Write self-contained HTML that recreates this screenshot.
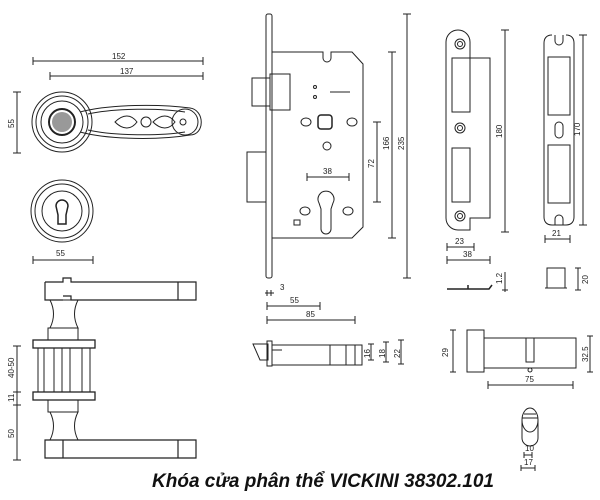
<!DOCTYPE html>
<html><head><meta charset="utf-8"><style>
html,body{margin:0;padding:0;background:#fff;width:600px;height:500px;overflow:hidden}
svg{display:block}
text{font-family:"Liberation Sans",sans-serif;font-size:8px;fill:#222}
.t{font-size:19px;font-weight:bold;font-style:italic;fill:#111}
</style></head><body>
<svg width="600" height="500" viewBox="0 0 600 500" xmlns="http://www.w3.org/2000/svg" fill="none" stroke="#222" stroke-width="1">
<path d="M33 61H203M33 57v8M203 57v8M50 76H203M50 72v8M203 72v8M17 92V153M13 92h8M13 153h8"/>
<text x="112" y="59" stroke="none">152</text><text x="120" y="74" stroke="none">137</text>
<text x="14" y="128" stroke="none" transform="rotate(-90 14 128)">55</text>
<circle cx="62" cy="122" r="30"/><circle cx="62" cy="122" r="26"/><circle cx="62" cy="122" r="21"/><circle cx="62" cy="122" r="13" stroke-width="2"/>
<circle cx="62" cy="122" r="10" fill="#999" stroke="none"/>
<path d="M80 112 C110 104,160 104,190 108 C205 110,205 135,190 135 C160 140,110 140,80 132"/>
<path d="M88 114 C115 108,160 108,185 112 M88 130 C115 136,160 136,185 132"/>
<path d="M115 122 c8-8 16-8 22 0 c-6 8-14 8-22 0z M153 122 c8-8 16-8 22 0 c-6 8-14 8-22 0z"/><circle cx="146" cy="122" r="5"/><circle cx="183" cy="122" r="3"/>
<circle cx="185" cy="122" r="13"/>
<circle cx="62" cy="211" r="31"/><circle cx="62" cy="211" r="27"/><circle cx="62" cy="211" r="20"/>
<path d="M56 206a6 6 0 1 1 12 0l-2 9v9h-8v-9z" stroke-width="1.5"/>
<path d="M33 260H93M33 256v8M93 256v8"/><text x="56" y="256" stroke="none">55</text>
<path d="M45 282h18v-4h8v4h125v18H71v-4h-8 M45 282v18h18 M178 282v18" stroke-width="1.2"/>
<path d="M50 300c5 10 4 20 0 28h28c-4-8-5-18 0-28z"/>
<rect x="48" y="328" width="30" height="12"/>
<rect x="33" y="340" width="62" height="8" stroke-width="1.3"/>
<path d="M38 348v44M44 348v44M54 348v44M62 348v44M70 348v44M82 348v44M90 348v44"/>
<rect x="33" y="392" width="62" height="8" stroke-width="1.3"/>
<rect x="48" y="400" width="30" height="12"/>
<path d="M50 412c5 10 4 20 0 28h28c-4-8-5-18 0-28z"/>
<path d="M45 440h151v18H45z M63 440v18 M178 440v18" stroke-width="1.2"/>
<path d="M17 346V460M13 346h8M13 392h8M13 405h8M13 460h8"/>
<text x="14" y="378" stroke="none" transform="rotate(-90 14 378)">40-50</text>
<text x="14" y="402" stroke="none" transform="rotate(-90 14 402)">11</text>
<text x="14" y="438" stroke="none" transform="rotate(-90 14 438)">50</text>
<rect x="266" y="14" width="6" height="264" rx="2"/>
<path d="M272 52H323v6a4 4 0 0 0 8 0v-6H352l11 12V227l-11 11H272"/>
<rect x="270" y="74" width="20" height="36"/><path d="M252 78h18v28h-18z"/>
<rect x="247" y="152" width="19" height="50"/>
<rect x="318" y="115" width="14" height="14" rx="3" stroke-width="1.5"/>
<ellipse cx="306" cy="122" rx="5" ry="4"/><ellipse cx="352" cy="122" rx="5" ry="4"/><circle cx="327" cy="146" r="4"/>
<circle cx="315" cy="87" r="1.5"/><circle cx="315" cy="97" r="1.5"/><path d="M330 92h20"/>
<path d="M319 203a8 8 0 1 1 14 0l-2 6v20a4 4 0 0 1-10 0v-20z"/>
<ellipse cx="305" cy="211" rx="5" ry="4"/><ellipse cx="348" cy="211" rx="5" ry="4"/>
<path d="M294 220h6v5h-6z"/>
<path d="M307 177h42M307 173v8M349 173v8"/><text x="323" y="174" stroke="none">38</text>
<path d="M377 122V202M373 122h8M373 202h8M392 52V238M388 52h8M388 238h8M407 14V278M403 14h8M403 278h8"/>
<text x="374" y="168" stroke="none" transform="rotate(-90 374 168)">72</text>
<text x="389" y="150" stroke="none" transform="rotate(-90 389 150)">166</text>
<text x="404" y="150" stroke="none" transform="rotate(-90 404 150)">235</text>
<path d="M265 293h9M267 290v6M271 290v6"/><text x="280" y="290" stroke="none">3</text>
<path d="M267 306h53M267 302v8M320 302v8"/><text x="290" y="303" stroke="none">55</text>
<path d="M267 320h88M267 316v8M355 316v8"/><text x="306" y="317" stroke="none">85</text>
<path d="M253 344h15v16h-8z"/><rect x="267" y="341" width="5" height="25"/>
<path d="M272 345h90v20h-90z M330 345v20M346 345v20M355 345v20M272 350h10"/>
<path d="M371 344v16M368 344h6M368 360h6M386 342v20M383 342h6M383 362h6M401 340v24M398 340h6M398 364h6"/>
<text x="370" y="358" stroke="none" transform="rotate(-90 370 358)">16</text>
<text x="385" y="358" stroke="none" transform="rotate(-90 385 358)">18</text>
<text x="400" y="358" stroke="none" transform="rotate(-90 400 358)">22</text>
<path d="M458 30a12 12 0 0 0-12 12V218a12 12 0 0 0 12 12h12v-12h20V58h-20V42a12 12 0 0 0-12-12z"/>
<circle cx="460" cy="44" r="5"/><circle cx="460" cy="44" r="2.5"/><circle cx="460" cy="128" r="5"/><circle cx="460" cy="128" r="2.5"/><circle cx="460" cy="216" r="5"/><circle cx="460" cy="216" r="2.5"/>
<rect x="452" y="58" width="18" height="54"/><rect x="452" y="148" width="18" height="54"/>
<path d="M505 30V232M501 30h8M501 232h8"/><text x="502" y="138" stroke="none" transform="rotate(-90 502 138)">180</text>
<path d="M447 247h27M447 243v8M474 243v8M447 260h43M447 256v8M490 256v8"/><text x="455" y="244" stroke="none">23</text><text x="463" y="257" stroke="none">38</text>
<path d="M447 289h42l3-4M468 285v4" stroke-width="1.5"/>
<path d="M505 272v20M502 290h6"/><text x="502" y="284" stroke="none" transform="rotate(-90 502 284)">1.2</text>
<path d="M552 35c-6 0-8 4-8 8V217c0 4 2 8 8 8h14c6 0 8-4 8-8V43c0-4-2-8-8-8"/>
<path d="M555 35v6a4 4 0 0 0 8 0v-6 M555 225v-6a4 4 0 0 1 8 0v6"/>
<rect x="548" y="57" width="22" height="58"/><rect x="548" y="145" width="22" height="58"/><rect x="555" y="122" width="8" height="16" rx="4"/>
<path d="M583 35V225M579 35h8M579 225h8"/><text x="580" y="136" stroke="none" transform="rotate(-90 580 136)">170</text>
<path d="M545 239h25M545 235v8M570 235v8"/><text x="552" y="236" stroke="none">21</text>
<rect x="547" y="268" width="18" height="20"/><path d="M545 288h22"/>
<path d="M578 268v22M575 268h6M575 290h6"/><text x="588" y="284" stroke="none" transform="rotate(-90 588 284)">20</text>
<rect x="467" y="330" width="17" height="42"/><rect x="484" y="338" width="92" height="30"/>
<rect x="526" y="338" width="8" height="24"/><circle cx="530" cy="370" r="2"/>
<path d="M453 330v42M450 330h6M450 372h6"/><text x="448" y="357" stroke="none" transform="rotate(-90 448 357)">29</text>
<path d="M590 336v36M587 336h6M587 372h6"/><text x="588" y="362" stroke="none" transform="rotate(-90 588 362)">32.5</text>
<path d="M488 385h85M488 381v8M573 381v8"/><text x="525" y="382" stroke="none">75</text>
<ellipse cx="530" cy="420" rx="8" ry="12"/><path d="M522 420v18a8 8 0 0 0 16 0v-18"/>
<path d="M522 418h16M524 414h12"/>
<path d="M524 455h8M524 452v6M532 452v6M521 468h14M521 465v6M535 465v6"/>
<text x="525" y="451" stroke="none">10</text><text x="524" y="465" stroke="none">17</text>
<text x="323" y="487" class="t" stroke="none" text-anchor="middle">Khóa cửa phân thể VICKINI 38302.101</text>
</svg>
</body></html>
